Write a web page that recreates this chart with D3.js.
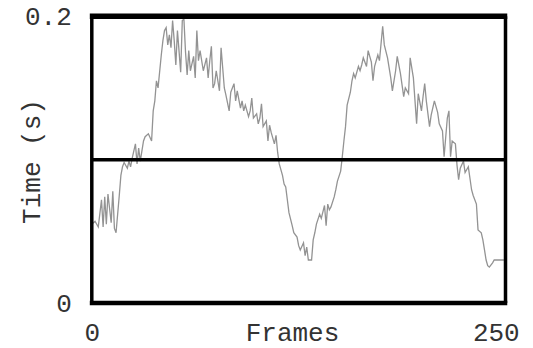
<!DOCTYPE html>
<html>
<head>
<meta charset="utf-8">
<script src="https://cdn.jsdelivr.net/npm/d3@7"></script>
<style>
  html, body { margin: 0; padding: 0; background: #fff; }
  svg { display: block; }
  text { font-family: "Liberation Mono", "Courier New", monospace; fill: #333; }
</style>
</head>
<body>
<svg id="chart" width="533" height="348"></svg>
<script>
// ---- data ----
const frames = [0,2,4,6,7,8,9,10,12,13,14,15,17,18,19,20,22,23,24,25,27,28,29,30,32,33,35,37,38,39,40,41,43,44,45,46,47,48,49,50,51,52,53,55,56,57,58,59,60,61,63,64,65,66,67,69,71,72,73,74,75,76,77,79,80,82,83,85,86,88,89,90,92,93,94,95,97,98,99,100,102,103,104,105,106,108,109,110,111,113,114,115,116,118,119,120,121,122,124,125,127,128,129,131,132,133,134,136,137,138,139,141,142,144,145,146,147,148,150,151,152,154,155,156,157,158,160,161,162,163,165,166,167,168,170,171,173,174,175,177,178,180,181,183,184,185,186,188,189,191,192,193,194,196,197,199,200,201,202,204,205,206,207,209,210,212,214,215,217,218,220,221,222,223,225,226,227,228,230,231,233,234,235,236,238,239,241,242,243,244,245,246,248,249,251,252,254,255];
const times = [0.055,0.057,0.053,0.072,0.053,0.074,0.055,0.076,0.056,0.078,0.052,0.049,0.075,0.089,0.095,0.098,0.094,0.099,0.095,0.101,0.111,0.097,0.108,0.099,0.113,0.116,0.118,0.113,0.134,0.141,0.155,0.150,0.173,0.183,0.190,0.192,0.180,0.187,0.178,0.197,0.183,0.166,0.190,0.161,0.197,0.198,0.175,0.159,0.176,0.162,0.172,0.157,0.190,0.169,0.176,0.162,0.171,0.157,0.169,0.179,0.150,0.153,0.162,0.148,0.178,0.150,0.145,0.134,0.147,0.153,0.141,0.148,0.136,0.141,0.134,0.138,0.130,0.134,0.143,0.129,0.132,0.125,0.129,0.139,0.123,0.127,0.113,0.124,0.119,0.111,0.117,0.105,0.097,0.089,0.083,0.081,0.072,0.063,0.054,0.049,0.046,0.040,0.037,0.042,0.033,0.039,0.030,0.030,0.044,0.049,0.055,0.062,0.059,0.068,0.054,0.069,0.065,0.067,0.074,0.079,0.085,0.092,0.102,0.113,0.123,0.138,0.147,0.155,0.160,0.157,0.165,0.162,0.166,0.171,0.165,0.176,0.168,0.155,0.165,0.173,0.169,0.193,0.180,0.171,0.164,0.157,0.148,0.162,0.172,0.160,0.152,0.144,0.150,0.146,0.171,0.157,0.141,0.125,0.146,0.134,0.144,0.153,0.141,0.123,0.131,0.141,0.133,0.125,0.120,0.102,0.129,0.134,0.102,0.113,0.111,0.096,0.086,0.094,0.099,0.091,0.095,0.087,0.079,0.075,0.069,0.051,0.049,0.044,0.037,0.030,0.026,0.025,0.028,0.030,0.030,0.030,0.030,0.030];
const xTicks = [0, 250];
const xTickLabels = ["0", "250"];
const yTicks = [0, 0.2];
const yTickLabels = ["0", "0.2"];
const refValue = [0.1];
const xTitle = "Frames";
const yTitle = "Time (s)";

// ---- layout ----
const svg = d3.select("#chart");
const plotL = 91.8, plotR = 505.5, plotT = 16.25, plotB = 303;
const fs = 26;
const x = d3.scaleLinear().domain([0, 256]).range([plotL, plotR]);
const y = d3.scaleLinear().domain([0, 0.2]).range([plotB, plotT]);

const data = frames.map((f, i) => ({ f, t: times[i] }));

// series line
svg.append("path")
  .datum(data)
  .attr("fill", "none")
  .attr("stroke", "#939393")
  .attr("stroke-width", 1.3)
  .attr("stroke-linejoin", "miter")
  .attr("d", d3.line().x(d => x(d.f)).y(d => y(d.t)));

// reference line at 0.1
svg.selectAll("line.ref").data(refValue).join("line")
  .attr("class", "ref")
  .attr("x1", plotL).attr("x2", plotR)
  .attr("y1", d => y(d)).attr("y2", d => y(d))
  .attr("stroke", "#000").attr("stroke-width", 3.5);

// frame
svg.append("line").attr("x1", plotL - 2).attr("x2", plotR + 1.75).attr("y1", plotT).attr("y2", plotT).attr("stroke", "#000").attr("stroke-width", 5.5);
svg.append("line").attr("x1", plotL - 2).attr("x2", plotR + 1.75).attr("y1", plotB).attr("y2", plotB).attr("stroke", "#000").attr("stroke-width", 4.5);
svg.append("line").attr("x1", plotL).attr("x2", plotL).attr("y1", plotT).attr("y2", plotB).attr("stroke", "#000").attr("stroke-width", 3.5);
svg.append("line").attr("x1", plotR).attr("x2", plotR).attr("y1", plotT).attr("y2", plotB).attr("stroke", "#000").attr("stroke-width", 3.5);

// axes (labels only)
const xAxis = d3.axisBottom(x).tickValues(xTicks).tickFormat((d, i) => xTickLabels[i]).tickSize(0).tickPadding(0);
const gx = svg.append("g").attr("transform", `translate(0,${plotB})`).call(xAxis);
gx.select(".domain").remove();
gx.selectAll("text").attr("font-size", fs).attr("font-family", null).attr("fill", null)
  .attr("y", 37.5).attr("dy", null);

const yAxis = d3.axisLeft(y).tickValues(yTicks).tickFormat((d, i) => yTickLabels[i]).tickSize(0).tickPadding(20);
const gy = svg.append("g").attr("transform", `translate(${plotL},0)`).call(yAxis);
gy.select(".domain").remove();
gy.selectAll("text").attr("font-size", fs).attr("font-family", null).attr("fill", null);

// titles
svg.append("text")
  .attr("x", 292.5).attr("y", 340.5)
  .attr("text-anchor", "middle")
  .attr("font-size", fs)
  .text(xTitle);

svg.append("text")
  .attr("transform", "translate(40,161.5) rotate(-90)")
  .attr("text-anchor", "middle")
  .attr("font-size", fs)
  .text(yTitle);
</script>
</body>
</html>
